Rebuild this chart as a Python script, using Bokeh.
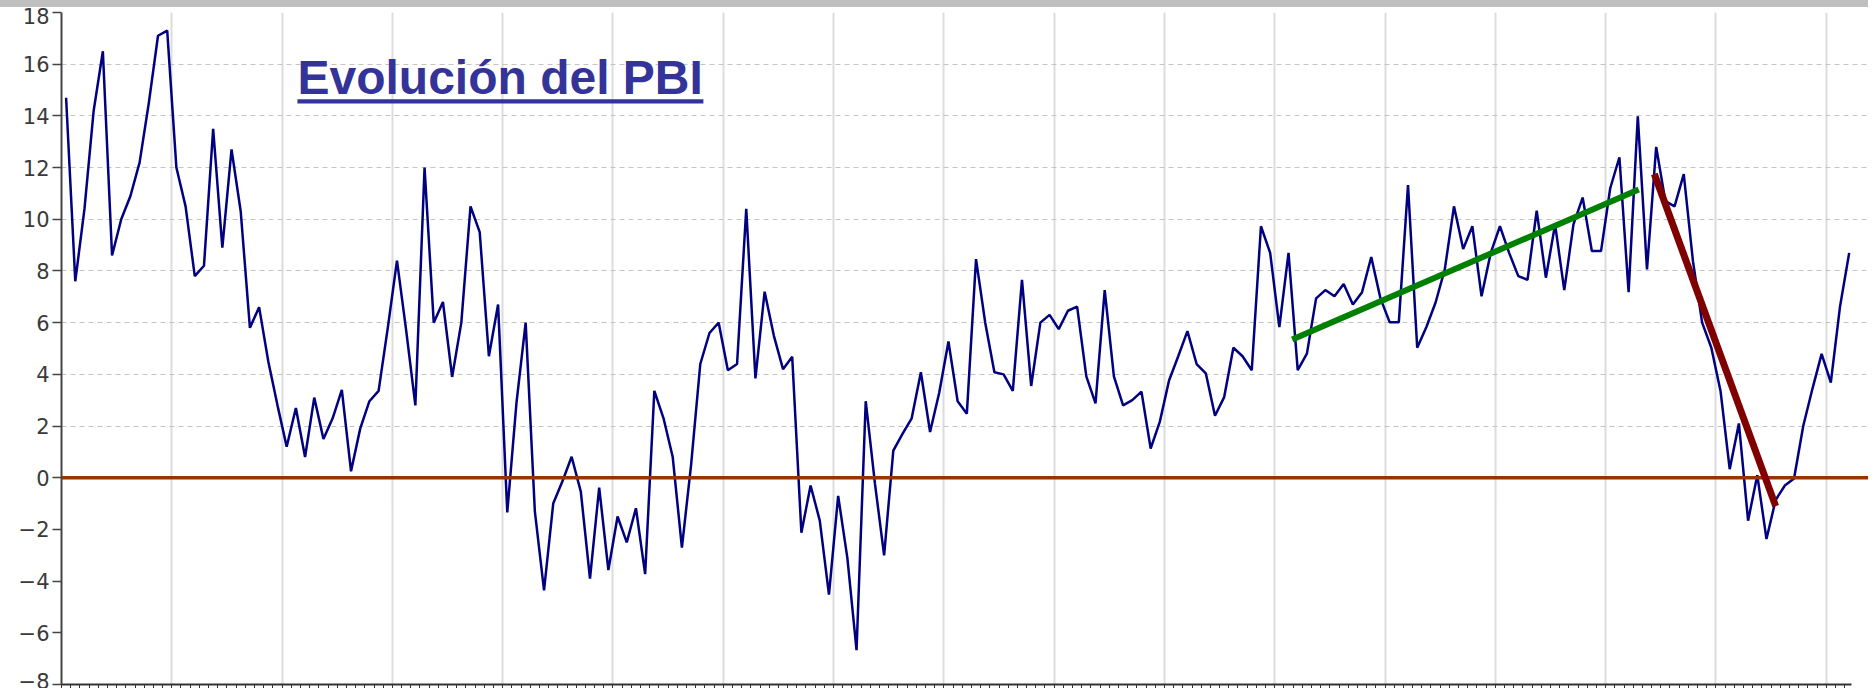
import numpy as np
from bokeh.plotting import figure
from bokeh.layouts import column
from bokeh.models import (Range1d, Span, Label, BoxAnnotation, SingleIntervalTicker,
                          CustomJSTickFormatter, Div)
from bokeh.embed import file_html
from bokeh.resources import INLINE

# Monthly PBI growth (%)
pbi = [
    14.7, 7.6, 10.4, 14.2, 16.5, 8.6, 10.0, 10.9, 12.2, 14.5, 17.1, 17.3,
    12.0, 10.5, 7.8, 8.2, 13.5, 8.9, 12.7, 10.3, 5.8, 6.6, 4.5, 2.8,
    1.2, 2.7, 0.8, 3.1, 1.5, 2.3, 3.4, 0.25, 1.9, 2.96, 3.36, 5.8,
    8.4, 5.7, 2.8, 12.0, 6.0, 6.8, 3.9, 6.0, 10.5, 9.5, 4.7, 6.7,
    -1.34, 2.9, 6.0, -1.3, -4.36, -1.0, -0.14, 0.81, -0.54, -3.9, -0.38, -3.57,
    -1.5, -2.5, -1.18, -3.73, 3.36, 2.3, 0.8, -2.7, 0.5, 4.4, 5.6, 6.0,
    4.16, 4.4, 10.4, 3.84, 7.2, 5.5, 4.2, 4.68, -2.13, -0.3, -1.66, -4.52,
    -0.7, -3.1, -6.67, 2.96, -0.22, -3.0, 1.05, 1.7, 2.3, 4.08, 1.77, 3.3,
    5.27, 2.96, 2.48, 8.46, 6.0, 4.08, 4.0, 3.36, 7.66, 3.55, 6.0, 6.3,
    5.75, 6.46, 6.62, 3.92, 2.88, 7.26, 3.92, 2.8, 3.0, 3.33, 1.13, 2.17,
    3.76, 4.7, 5.67, 4.4, 4.04, 2.4, 3.12, 5.03, 4.7, 4.16, 9.73, 8.7,
    5.83, 8.7, 4.16, 4.8, 6.94, 7.26, 7.02, 7.5, 6.7, 7.18, 8.54, 6.94,
    6.02, 6.02, 11.32, 5.03, 5.83, 6.78, 8.06, 10.5, 8.85, 9.73, 7.02, 8.7,
    9.73, 8.7, 7.8, 7.66, 10.33, 7.74, 9.8, 7.26, 9.8, 10.84, 8.77, 8.77,
    11.2, 12.4, 7.18, 13.98, 8.06, 12.8, 10.7, 10.5, 11.75, 8.38, 6.0, 5.03,
    3.36, 0.33, 2.1, -1.66, 0.1, -2.37, -0.86, -0.3, -0.03, 2.0, 3.44, 4.79,
    3.68, 6.62, 8.7,
]
month_pos = np.arange(len(pbi)) + 0.5

# Hand-drawn trend lines (month position, value)
trend_up_x = [133.9, 171.6]
trend_up_y = [5.35, 11.15]
trend_down_x = [173.3, 186.5]
trend_down_y = [11.75, -1.1]

y_tick_interval = 2
months_per_year = 12
title_text = "Evolución del PBI"

p = figure(width=1868, height=681, output_backend="svg", toolbar_location=None,
           x_range=Range1d(0, 196.6), y_range=Range1d(-8, 18),
           min_border_left=61, min_border_right=0, min_border_top=5,
           min_border_bottom=0)
p.outline_line_color = None
p.background_fill_color = "white"
p.border_fill_color = "white"

# y axis
p.yaxis.ticker = SingleIntervalTicker(interval=y_tick_interval, num_minor_ticks=0)
p.yaxis.axis_line_color = "#444444"
p.yaxis.axis_line_width = 2
p.yaxis.major_tick_line_color = "#444444"
p.yaxis.major_tick_line_width = 1.5
p.yaxis.major_tick_out = 9
p.yaxis.major_tick_in = 0
p.yaxis.major_label_standoff = 3
p.yaxis.major_label_text_font = "DejaVu Sans"
p.yaxis.major_label_text_font_size = "21px"
p.yaxis.major_label_text_color = "#3a3a3a"

# x axis (months; labels fall outside the picture)
p.xaxis.ticker = SingleIntervalTicker(interval=months_per_year, num_minor_ticks=12)
p.xaxis.formatter = CustomJSTickFormatter(code="return ''")
p.xaxis.bounds = (0, 194.8)
p.xaxis.axis_line_color = "#333333"
p.xaxis.axis_line_width = 2
p.xaxis.major_tick_out = 4
p.xaxis.major_tick_in = 0
p.xaxis.minor_tick_out = 4
p.xaxis.minor_tick_in = 0
p.xaxis.major_tick_line_color = "#333333"
p.xaxis.minor_tick_line_color = "#333333"
p.xaxis.major_label_text_font_size = "1px"
p.xaxis.major_label_standoff = 0

# grids
p.xgrid.grid_line_color = "#dcdcdc"
p.xgrid.grid_line_width = 2
p.ygrid.grid_line_color = "#c4c4c4"
p.ygrid.grid_line_width = 1
p.ygrid.grid_line_dash = "5 4"
p.ygrid.bounds = (0, 194.8)

# data
p.line(month_pos, pbi, line_color="#000080", line_width=2.5)

zero = Span(location=0, dimension="width", line_color="#993300", line_width=3.5)
p.add_layout(zero)

r1 = p.line(trend_up_x, trend_up_y, line_color="#008000", line_width=6)
r2 = p.line(trend_down_x, trend_down_y, line_color="#800000", line_width=7)
r1.level = "overlay"
r2.level = "overlay"

title = Label(x=25.67, y=15.47, text=title_text, text_font="Liberation Sans",
              text_font_size="48px", text_font_style="bold", text_color="#333399",
              text_baseline="alphabetic", text_align="left")
p.add_layout(title)
underline = BoxAnnotation(left=25.67, right=69.84, bottom=14.475, top=14.646,
                          fill_color="#333399", fill_alpha=1.0, line_alpha=0)
p.add_layout(underline)

band = Div(text="", width=1868, height=7, margin=0,
           styles={"background-color": "#bfbfbf"})
layout = column(band, p, spacing=0)

open("out.html", "w").write(file_html(layout, INLINE))
